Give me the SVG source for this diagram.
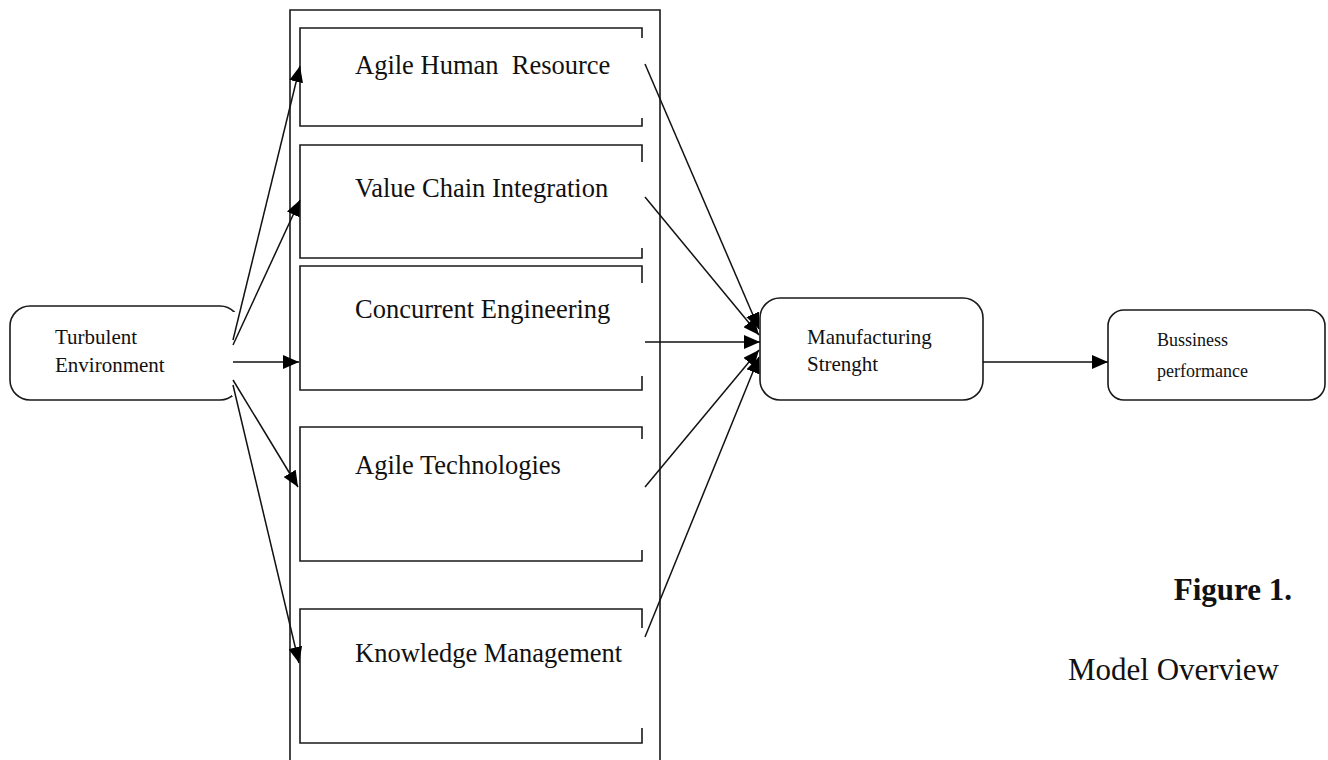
<svg xmlns="http://www.w3.org/2000/svg" width="1328" height="760" viewBox="0 0 1328 760">
  <defs>
    <marker id="arrow" markerUnits="userSpaceOnUse" markerWidth="16" markerHeight="14" refX="16" refY="7" orient="auto">
      <path d="M0,0 L16,7 L0,14 z" fill="#000"/>
    </marker>
    <style>
      .box { fill: none; stroke: #1a1a1a; stroke-width: 1.6; }
      .node { fill: #fff; stroke: #1a1a1a; stroke-width: 1.6; }
      .edge { fill: none; stroke: #111; stroke-width: 1.5; marker-end: url(#arrow); }
      .plain { fill: none; stroke: #111; stroke-width: 1.5; }
      .t { font-family: "Liberation Serif", "Times New Roman", serif; fill: #111; }
      .big { font-size: 26.5px; }
      .mid { font-size: 21px; }
      .small { font-size: 18px; }
      .cap { font-size: 31px; }
    </style>
  </defs>
  <rect width="1328" height="760" fill="#fff"/>

  <!-- container around the five capability blocks -->
  <g id="container">
    <path class="box" d="M290 770 V10 H660 V770"/>
  </g>

  <g id="agile-human-resource">
    <path class="box" d="M642 38 V28 H300 V126 H642 V118"/>
    <text class="t big" x="355" y="74" xml:space="preserve">Agile Human  Resource</text>
  </g>
  <g id="value-chain-integration">
    <path class="box" d="M642 162 V145 H300 V258 H642 V248"/>
    <text class="t big" x="355" y="197">Value Chain Integration</text>
  </g>
  <g id="concurrent-engineering">
    <path class="box" d="M642 283 V266 H300 V390 H642 V376"/>
    <text class="t big" x="355" y="318">Concurrent Engineering</text>
  </g>
  <g id="agile-technologies">
    <path class="box" d="M642 439 V427 H300 V561 H642 V550"/>
    <text class="t big" x="355" y="474">Agile Technologies</text>
  </g>
  <g id="knowledge-management">
    <path class="box" d="M642 628 V609 H300 V743 H642 V728"/>
    <text class="t big" x="355" y="662">Knowledge Management</text>
  </g>

  <g id="turbulent-environment">
    <rect class="node" x="10" y="306" width="230" height="94" rx="20" ry="20"/>
    <rect x="232" y="312" width="10" height="84" fill="#fff"/>
    <text class="t mid" x="55" y="344">Turbulent</text>
    <text class="t mid" x="55" y="372">Environment</text>
  </g>

  <g id="manufacturing-strength">
    <rect class="node" x="760" y="298" width="223" height="102" rx="20" ry="20"/>
    <text class="t mid" x="807" y="344">Manufacturing</text>
    <text class="t mid" x="807" y="371">Strenght</text>
  </g>

  <g id="business-performance">
    <rect class="node" x="1108" y="310" width="217" height="90" rx="16" ry="16"/>
    <text class="t small" x="1157" y="346">Bussiness</text>
    <text class="t small" x="1157" y="377">performance</text>
  </g>

  <g id="connectors">
    <!-- environment to each capability -->
    <line class="edge" x1="233" y1="340" x2="300" y2="66"/>
    <line class="edge" x1="233" y1="345" x2="300" y2="200"/>
    <line class="edge" x1="233" y1="362" x2="299" y2="362"/>
    <line class="edge" x1="233" y1="380" x2="298" y2="487"/>
    <line class="edge" x1="233" y1="385" x2="299" y2="663"/>
    <!-- capabilities to manufacturing strength -->
    <line class="edge" x1="645" y1="64" x2="759" y2="329"/>
    <line class="edge" x1="645" y1="197" x2="759" y2="335"/>
    <line class="edge" x1="645" y1="342" x2="760" y2="342"/>
    <line class="edge" x1="645" y1="487" x2="759" y2="350"/>
    <line class="edge" x1="645" y1="637" x2="759" y2="357"/>
    <!-- manufacturing strength to business performance -->
    <line class="edge" x1="983" y1="362" x2="1108" y2="362"/>
  </g>

  <g id="caption">
    <text class="t cap" x="1292" y="600" text-anchor="end" font-weight="bold">Figure 1.</text>
    <text class="t cap" x="1068" y="680">Model Overview</text>
  </g>
</svg>
